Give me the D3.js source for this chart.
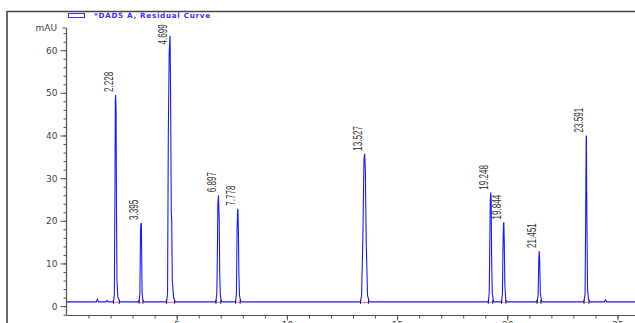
<!DOCTYPE html>
<html>
<head>
<meta charset="utf-8">
<script src="https://cdn.jsdelivr.net/npm/d3@7"></script>
<style>
  html, body { margin: 0; padding: 0; background: #fff; }
  svg { display: block; }
</style>
</head>
<body>
<svg id="chart" width="635" height="323"></svg>
<script>
// Signal name and units
const signalName = "*DAD5 A, Residual Curve";
const unitLabel = "mAU";

// Detector trace: [retention time (min), absorbance (mAU)]
const trace = [
  [0.00, 1.0], [1.35, 1.0], [1.40, 1.6], [1.45, 1.0], [1.80, 1.0], [1.85, 1.3], [1.92, 1.0],
  [2.13, 1.0], [2.17, 2.6], [2.20, 28], [2.215, 48], [2.228, 49.5], [2.25, 46], [2.268, 24], [2.29, 6], [2.33, 2.2], [2.40, 1.2], [2.46, 1.0],
  [3.29, 1.0], [3.33, 2.8], [3.36, 18], [3.375, 19.3], [3.395, 19.5], [3.41, 12.5], [3.43, 3.0], [3.47, 1.3], [3.52, 1.0],
  [4.54, 1.0], [4.585, 3.0], [4.62, 40], [4.66, 59.6], [4.699, 63.4], [4.72, 51.7], [4.755, 22], [4.775, 20], [4.80, 6], [4.86, 2], [4.94, 1.0],
  [6.78, 1.0], [6.82, 3.0], [6.84, 10], [6.87, 24], [6.897, 26], [6.93, 20], [6.95, 8], [6.98, 2.5], [7.04, 1.0],
  [7.67, 1.0], [7.71, 2.8], [7.74, 18], [7.765, 22.6], [7.778, 22.8], [7.80, 18], [7.82, 8], [7.85, 2.5], [7.91, 1.0],
  [13.34, 1.0], [13.39, 2.6], [13.44, 14], [13.50, 34.5], [13.527, 35.7], [13.56, 32], [13.60, 15], [13.66, 2.5], [13.74, 1.0],
  [19.14, 1.0], [19.18, 3], [19.20, 11], [19.23, 25], [19.248, 26.6], [19.27, 25], [19.29, 11], [19.32, 3], [19.38, 1.0],
  [19.74, 1.0], [19.78, 3], [19.81, 15.5], [19.83, 19.4], [19.844, 19.6], [19.86, 16], [19.89, 5], [19.93, 1.5], [19.98, 1.0],
  [21.35, 1.0], [21.40, 2.5], [21.43, 11], [21.451, 12.9], [21.47, 11], [21.50, 3], [21.56, 1.0],
  [23.48, 1.0], [23.53, 3], [23.56, 22], [23.58, 39.5], [23.591, 40], [23.61, 23], [23.64, 4], [23.69, 1.5], [23.76, 1.0],
  [24.40, 1.0], [24.45, 1.5], [24.52, 1.0], [25.80, 1.0]
];

// Integrated peaks: retention time, apex height, label, integration limits
const peakTimes   = [2.228, 3.395, 4.699, 6.897, 7.778, 13.527, 19.248, 19.844, 21.451, 23.591];
const peakHeights = [49.5, 19.5, 63.4, 26, 22.8, 35.7, 26.6, 19.6, 12.9, 40];
const peakLabels  = ["2.228", "3.395", "4.699", "6.897", "7.778", "13.527", "19.248", "19.844", "21.451", "23.591"];
const peakStarts  = [2.13, 3.29, 4.54, 6.78, 7.67, 13.34, 19.14, 19.74, 21.35, 23.48];
const peakEnds    = [2.40, 3.47, 4.90, 7.00, 7.88, 13.70, 19.34, 19.94, 21.53, 23.71];
const baselineLevel = 1.0;

// Axis ticks
const xMajorTicks = [5, 10, 15, 20, 25];
const xMinorTicks = d3.range(1, 26);
const yMajorTicks = [0, 10, 20, 30, 40, 50, 60];
const yMinorTicks = d3.range(-2, 66, 2);

const svg = d3.select("#chart");

const x = d3.scaleLinear().domain([0, 25.8]).range([66.5, 635.1]);
const y = d3.scaleLinear().domain([-2.2, 65.2]).range([315.5, 28]);

// Outer frame (left and top edges)
svg.append("path")
  .attr("d", "M7,323 L7,11.5 L635,11.5")
  .attr("fill", "none")
  .attr("stroke", "#444")
  .attr("stroke-width", 1.6);

// Legend
svg.append("rect")
  .attr("x", 68.5).attr("y", 13.5).attr("width", 16).attr("height", 4)
  .attr("fill", "none").attr("stroke", "#3030ff").attr("stroke-width", 1);
svg.append("text")
  .attr("x", 94).attr("y", 18.2)
  .attr("font-family", "DejaVu Sans")
  .attr("font-size", 7.2)
  .attr("font-weight", "bold")
  .attr("fill", "#3636ff")
  .attr("textLength", 116)
  .text(signalName);

// Y axis
const yAxisG = svg.append("g").attr("transform", "translate(66.5,0)");
yAxisG.append("g")
  .call(d3.axisLeft(y).tickValues(yMinorTicks).tickSize(3).tickFormat(""))
  .call(g => g.select(".domain").remove());
yAxisG.append("g")
  .call(d3.axisLeft(y).tickValues(yMajorTicks).tickSize(6).tickPadding(3).tickFormat(d3.format("d")))
  .call(g => g.select(".domain").remove())
  .call(g => g.selectAll("text")
    .attr("font-family", "DejaVu Sans")
    .attr("font-size", 9)
    .attr("fill", "#444"));
yAxisG.selectAll("line").attr("stroke", "#555");
yAxisG.append("line")
  .attr("x1", 0).attr("x2", 0).attr("y1", y(65.2)).attr("y2", y(-2.2))
  .attr("stroke", "#555").attr("stroke-width", 1.2);
yAxisG.append("line")
  .attr("x1", -4).attr("x2", 0).attr("y1", y(65.2)).attr("y2", y(65.2))
  .attr("stroke", "#555");
svg.append("text")
  .attr("x", 57).attr("y", y(65.2) + 3)
  .attr("text-anchor", "end")
  .attr("font-family", "DejaVu Sans")
  .attr("font-size", 9)
  .attr("fill", "#444")
  .text(unitLabel);

// X axis
const xAxisG = svg.append("g").attr("transform", `translate(0,${y(-2.2)})`);
xAxisG.append("g")
  .call(d3.axisBottom(x).tickValues(xMinorTicks).tickSize(3).tickFormat(""))
  .call(g => g.select(".domain").remove());
xAxisG.append("g")
  .call(d3.axisBottom(x).tickValues(xMajorTicks).tickSize(5).tickPadding(1).tickFormat(d3.format("d")))
  .call(g => g.select(".domain").remove())
  .call(g => g.selectAll("text")
    .attr("font-family", "DejaVu Sans")
    .attr("font-size", 9)
    .attr("fill", "#444"));
xAxisG.selectAll("line").attr("stroke", "#555");
xAxisG.append("line")
  .attr("x1", x(0)).attr("x2", 635).attr("y1", 0).attr("y2", 0)
  .attr("stroke", "#555").attr("stroke-width", 1.2);

// Integration baselines under each peak
const peaks = peakTimes.map((t, i) => ({
  t, h: peakHeights[i], label: peakLabels[i], s: peakStarts[i], e: peakEnds[i]
}));
svg.append("g").selectAll("line")
  .data(peaks).join("line")
  .attr("x1", d => x(d.s)).attr("x2", d => x(d.e))
  .attr("y1", y(baselineLevel) + 0.5).attr("y2", y(baselineLevel) + 0.5)
  .attr("stroke", "#ff55cc").attr("stroke-width", 1);

// Detector trace
const line = d3.line().x(d => x(d[0])).y(d => y(d[1]));
svg.append("path")
  .datum(trace)
  .attr("d", line)
  .attr("fill", "none")
  .attr("stroke", "#1a1aff")
  .attr("stroke-width", 1.1)
  .attr("stroke-linejoin", "miter");

// Peak start / end markers
const markers = peaks.flatMap(d => [d.s, d.e]);
svg.append("g").selectAll("line")
  .data(markers).join("line")
  .attr("x1", d => x(d)).attr("x2", d => x(d))
  .attr("y1", y(baselineLevel) - 2).attr("y2", y(baselineLevel) + 2)
  .attr("stroke", "#222").attr("stroke-width", 1);

// Retention time labels, rotated, condensed
const labelLen = d => d.label.length * 4.3;
svg.append("g").selectAll("text")
  .data(peaks).join("text")
  .attr("transform", d => {
    const bx = x(d.t) - 3;
    const by = Math.max(y(d.h) - 3, 23 + labelLen(d));
    return `translate(${bx},${by}) rotate(-90) scale(0.6,1)`;
  })
  .attr("font-family", "Liberation Sans")
  .attr("font-size", 13.5)
  .attr("fill", "#333")
  .text(d => d.label);
</script>
</body>
</html>
